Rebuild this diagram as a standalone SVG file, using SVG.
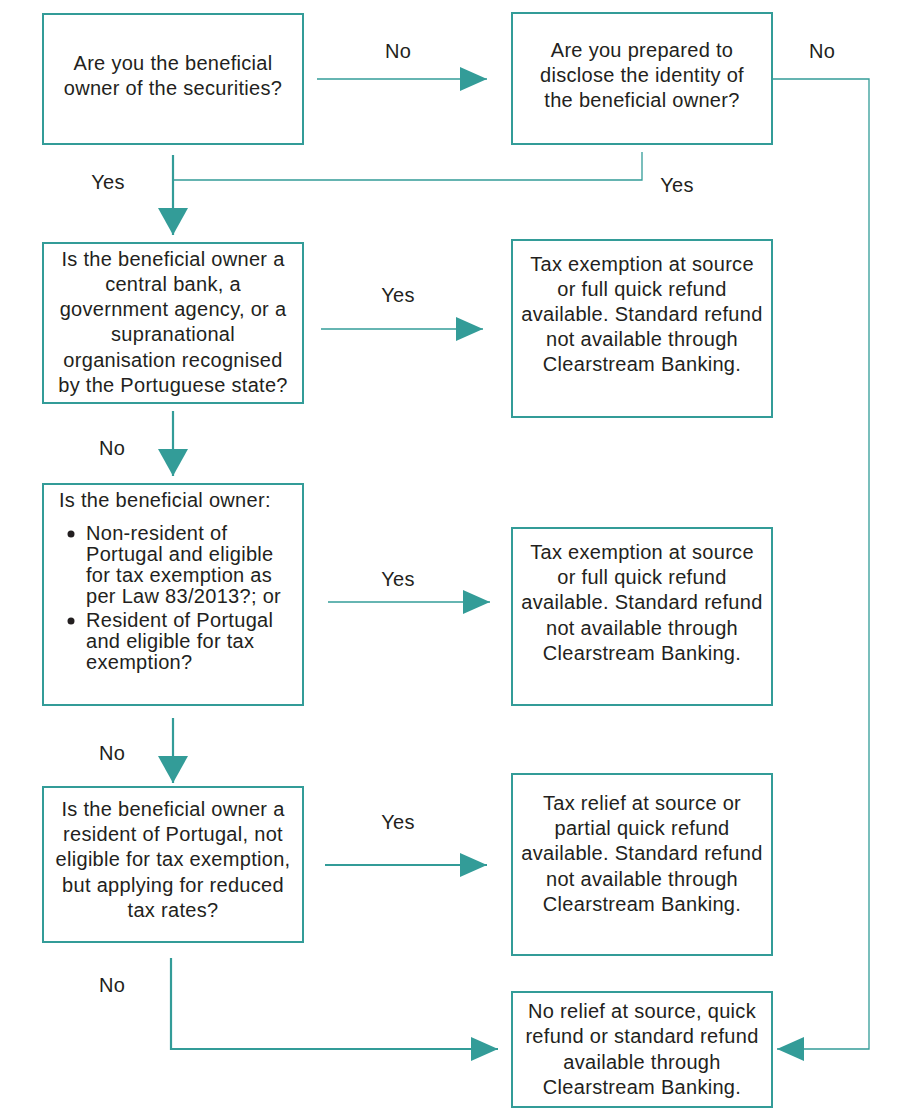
<svg xmlns="http://www.w3.org/2000/svg" width="921" height="1120" viewBox="0 0 921 1120">
<style>
.box{fill:#fff;stroke:#339c98;stroke-width:2}
.t{font-family:"Liberation Sans",Arial,sans-serif;font-size:20px;letter-spacing:0.3px;fill:#231f20;text-anchor:middle}
.l{text-anchor:start}
.c1{fill:none;stroke:#339c98;stroke-width:1.3}
.c2{fill:none;stroke:#339c98;stroke-width:2.2}
.ah{fill:#339c98}
</style>
<defs>
<marker id="a" viewBox="0 0 27 24" refX="27" refY="12" markerWidth="27" markerHeight="24" markerUnits="userSpaceOnUse" orient="auto"><path d="M0,0 L27,12 L0,24 Z" class="ah"/></marker>
<marker id="b" viewBox="0 0 27 30" refX="27" refY="15" markerWidth="27" markerHeight="30" markerUnits="userSpaceOnUse" orient="auto"><path d="M0,0 L27,15 L0,30 Z" class="ah"/></marker>
</defs>
<rect width="921" height="1120" fill="#fff"/>
<g id="connectors">
<path class="c1" d="M317,79 H487" marker-end="url(#a)"/>
<path class="c1" d="M772,79 H869 V1049 H777" marker-end="url(#a)"/>
<path class="c1" d="M642,152 V180 H173"/>
<path class="c2" d="M173,155 V235" marker-end="url(#b)"/>
<path class="c1" d="M321,329 H483" marker-end="url(#a)"/>
<path class="c2" d="M173,411 V476" marker-end="url(#b)"/>
<path class="c1" d="M328,602 H490" marker-end="url(#a)"/>
<path class="c2" d="M173,718 V783" marker-end="url(#b)"/>
<path class="c2" d="M325,865 H487" marker-end="url(#a)"/>
<path class="c2" d="M171,958 V1049 H498" marker-end="url(#a)"/>
<text class="t" x="398" y="58">No</text>
<text class="t" x="822" y="58">No</text>
<text class="t" x="108" y="189">Yes</text>
<text class="t" x="677" y="192">Yes</text>
<text class="t" x="398" y="302">Yes</text>
<text class="t" x="112" y="455">No</text>
<text class="t" x="398" y="586">Yes</text>
<text class="t" x="112" y="760">No</text>
<text class="t" x="398" y="829">Yes</text>
<text class="t" x="112" y="992">No</text>
</g>
<g id="n1">
<rect class="box" x="43" y="14" width="260" height="130"/>
<text class="t" x="173" y="70">Are you the beneficial</text>
<text class="t" x="173" y="95">owner of the securities?</text>
</g>
<g id="n2">
<rect class="box" x="512" y="13" width="260" height="131"/>
<text class="t" x="642" y="57">Are you prepared to</text>
<text class="t" x="642" y="82">disclose the identity of</text>
<text class="t" x="642" y="107">the beneficial owner?</text>
</g>
<g id="n3">
<rect class="box" x="43" y="243" width="260" height="160"/>
<text class="t" x="173" y="266">Is the beneficial owner a</text>
<text class="t" x="173" y="291">central bank, a</text>
<text class="t" x="173" y="316">government agency, or a</text>
<text class="t" x="173" y="341">supranational</text>
<text class="t" x="173" y="367">organisation recognised</text>
<text class="t" x="173" y="392">by the Portuguese state?</text>
</g>
<g id="n4">
<rect class="box" x="512" y="240" width="260" height="177"/>
<text class="t" x="642" y="271">Tax exemption at source</text>
<text class="t" x="642" y="296">or full quick refund</text>
<text class="t" x="642" y="321">available. Standard refund</text>
<text class="t" x="642" y="346">not available through</text>
<text class="t" x="642" y="371">Clearstream Banking.</text>
</g>
<g id="n5">
<rect class="box" x="43" y="484" width="260" height="221"/>
<text class="t l" x="59" y="507">Is the beneficial owner:</text>
<circle cx="71" cy="534" r="3.5" fill="#231f20"/>
<text class="t l" x="86" y="540">Non-resident of</text>
<text class="t l" x="86" y="561">Portugal and eligible</text>
<text class="t l" x="86" y="582">for tax exemption as</text>
<text class="t l" x="86" y="603">per Law 83/2013?; or</text>
<circle cx="71" cy="621" r="3.5" fill="#231f20"/>
<text class="t l" x="86" y="627">Resident of Portugal</text>
<text class="t l" x="86" y="648">and eligible for tax</text>
<text class="t l" x="86" y="669">exemption?</text>
</g>
<g id="n6">
<rect class="box" x="512" y="528" width="260" height="177"/>
<text class="t" x="642" y="559">Tax exemption at source</text>
<text class="t" x="642" y="584">or full quick refund</text>
<text class="t" x="642" y="609">available. Standard refund</text>
<text class="t" x="642" y="635">not available through</text>
<text class="t" x="642" y="660">Clearstream Banking.</text>
</g>
<g id="n7">
<rect class="box" x="43" y="787" width="260" height="155"/>
<text class="t" x="173" y="816">Is the beneficial owner a</text>
<text class="t" x="173" y="841">resident of Portugal, not</text>
<text class="t" x="173" y="866">eligible for tax exemption,</text>
<text class="t" x="173" y="892">but applying for reduced</text>
<text class="t" x="173" y="917">tax rates?</text>
</g>
<g id="n8">
<rect class="box" x="512" y="774" width="260" height="181"/>
<text class="t" x="642" y="810">Tax relief at source or</text>
<text class="t" x="642" y="835">partial quick refund</text>
<text class="t" x="642" y="860">available. Standard refund</text>
<text class="t" x="642" y="886">not available through</text>
<text class="t" x="642" y="911">Clearstream Banking.</text>
</g>
<g id="n9">
<rect class="box" x="512" y="992" width="260" height="115"/>
<text class="t" x="642" y="1018">No relief at source, quick</text>
<text class="t" x="642" y="1043">refund or standard refund</text>
<text class="t" x="642" y="1069">available through</text>
<text class="t" x="642" y="1094">Clearstream Banking.</text>
</g>
</svg>
